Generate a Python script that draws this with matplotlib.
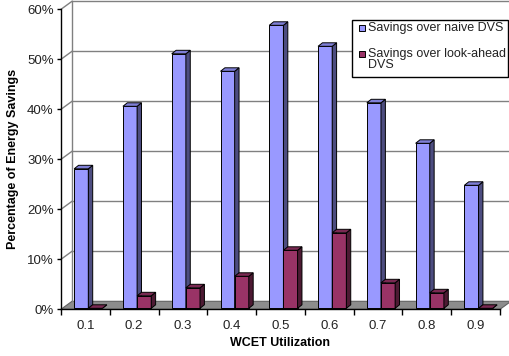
import matplotlib
matplotlib.use("Agg")
import matplotlib.pyplot as plt
from matplotlib.patches import Polygon, Rectangle

plt.rcParams['font.family'] = ['Liberation Sans', 'DejaVu Sans']

categories = ["0.1", "0.2", "0.3", "0.4", "0.5", "0.6", "0.7", "0.8", "0.9"]
naive_savings = [27.9, 40.4, 50.9, 47.4, 56.6, 52.4, 41.1, 33.0, 24.6]
lookahead_savings = [0.0, 2.5, 4.1, 6.4, 11.6, 15.1, 5.1, 3.1, 0.0]
series_labels = ["Savings over naive DVS", "Savings over look-ahead\nDVS"]
y_ticks = [0, 10, 20, 30, 40, 50, 60]

# colours of the front / side / top faces of each series
blue = ("#9999ff", "#4d4d80", "#7f7fd6")
red = ("#993366", "#4d1a33", "#7a2952")
grid_col = "#808080"
floor_col = "#8c8c8c"
text_col = "#222222"

W, H = 510, 356
fig = plt.figure(figsize=(W / 100, H / 100), dpi=100)
ax = fig.add_axes([61 / W, (H - 309.3) / H, 439 / W, 300 / H])
n = len(categories)
ax.set_xlim(0, n)
ax.set_ylim(0, 60)

# depth offsets of the walls and of the bars (in data units)
wdx, wdy = 0.2255, 1.6
bdx, bdy = 0.09, 0.7
base = 0.2

# floor
ax.add_patch(Polygon([(0, 0), (n, 0), (n + wdx, wdy), (wdx, wdy)],
                     closed=True, facecolor=floor_col, edgecolor="#606060",
                     lw=0.8, clip_on=False, zorder=1))
# back wall and side-wall gridlines
for v in y_ticks[1:]:
    ax.plot([wdx, n + wdx], [v + wdy, v + wdy], color=grid_col, lw=1.0,
            clip_on=False, zorder=1)
    ax.plot([0, wdx], [v, v + wdy], color=grid_col, lw=1.0,
            clip_on=False, zorder=1)
ax.plot([wdx, wdx], [wdy, 60 + wdy], color=grid_col, lw=1.0,
        clip_on=False, zorder=1)


def bar3d(x0, width, value, cols):
    f, s, t = cols
    y0, y1 = base, base + value
    x1 = x0 + width
    ax.add_patch(Polygon([(x0, y0), (x1, y0), (x1, y1), (x0, y1)], closed=True,
                         facecolor=f, edgecolor="black", lw=0.7,
                         clip_on=False, zorder=3))
    ax.add_patch(Polygon([(x1, y0), (x1 + bdx, y0 + bdy), (x1 + bdx, y1 + bdy),
                          (x1, y1)], closed=True, facecolor=s,
                         edgecolor="black", lw=0.7, clip_on=False, zorder=3))
    ax.add_patch(Polygon([(x0, y1), (x1, y1), (x1 + bdx, y1 + bdy),
                          (x0 + bdx, y1 + bdy)], closed=True, facecolor=t,
                         edgecolor="black", lw=0.7, clip_on=False, zorder=3))


bw = 0.29
for i in range(n):
    bar3d(i + 0.27, bw, naive_savings[i], blue)
    bar3d(i + 0.27 + bw, bw, lookahead_savings[i], red)

# axes styling
for side in ("top", "right"):
    ax.spines[side].set_visible(False)
for side in ("left", "bottom"):
    ax.spines[side].set_color("black")
    ax.spines[side].set_linewidth(1.0)
    ax.spines[side].set_zorder(4)
ax.patch.set_visible(False)

ax.set_yticks(y_ticks)
ax.set_yticklabels([f"{v}%" for v in y_ticks])
ax.tick_params(axis="y", direction="out", length=3, width=1, pad=2.3,
               labelsize=9.5, colors="black", labelcolor=text_col)
ax.set_xticks(range(n + 1))
ax.set_xticklabels([])
ax.set_xticks([i + 0.5 for i in range(n)], minor=True)
ax.set_xticklabels(categories, minor=True)
ax.tick_params(axis="x", which="major", direction="out", length=4, width=1)
ax.tick_params(axis="x", which="minor", length=0, pad=7.5, labelsize=9.5,
               labelcolor=text_col)

fig.text(279.5 / W, 1 - 343 / H, "WCET Utilization", fontsize=9,
         fontweight="bold", ha="center", va="center", color="black")
fig.text(13.3 / W, 1 - 159.3 / H, "Percentage of Energy Savings", fontsize=9,
         fontweight="bold", ha="center", va="center", rotation=90,
         color="black")

# legend
fig.patches.append(Rectangle((351.7 / W, 1 - 76.7 / H), 156 / W, 56.7 / H,
                             transform=fig.transFigure, facecolor="white",
                             edgecolor="black", lw=1.0, zorder=5))
for (yc, cols, lab) in [(28, blue, series_labels[0]), (54, red, series_labels[1])]:
    fig.patches.append(Rectangle((359 / W, 1 - (yc + 3.2) / H), 6.4 / W, 6.4 / H,
                                 transform=fig.transFigure, facecolor=cols[0],
                                 edgecolor="black", lw=0.7, zorder=6))
    fig.text(368.5 / W, 1 - (yc - 6.5) / H, lab, fontsize=9, ha="left",
             va="top", linespacing=1.0, zorder=6, color=text_col)

fig.savefig("out.png", dpi=100)
